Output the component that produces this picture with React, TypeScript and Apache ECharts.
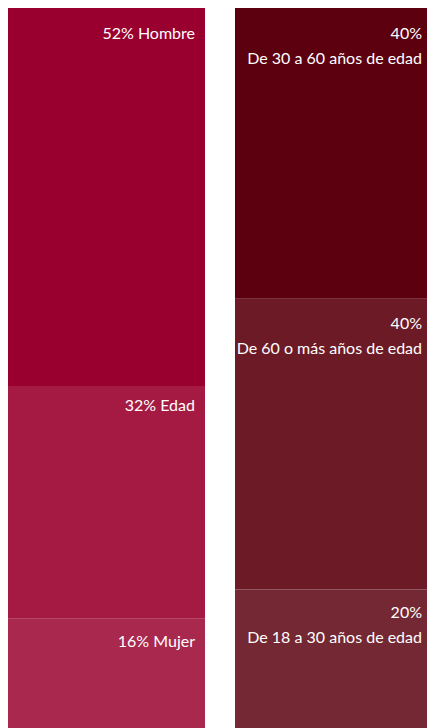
import React, { useEffect, useRef } from "react";
import * as echarts from "echarts";

const categories = ["Sexo", "Edad"];
const leftNames = ["Mujer", "Edad", "Hombre"];
const leftValues = [16, 32, 52];
const rightNames = ["De 18 a 30 años de edad", "De 60 o más años de edad", "De 30 a 60 años de edad"];
const rightValues = [20, 40, 40];

const FONT = "Lato, sans-serif";

export default function App() {
  const ref = useRef<HTMLDivElement>(null);
  useEffect(() => {
    document.body.style.margin = "0";
    document.documentElement.style.overflow = "hidden";
    document.body.style.overflow = "hidden";
    if (!ref.current) return;
    const leftColors = ["#A9284D", "#A41A42", "#990030"];
    const rightColors = ["#742833", "#6C1A26", "#5C0010"];
    const leftDy = [-1, -4, 2];
    const rightDy = [-1, 1, 2];
    const chart = echarts.init(ref.current, null, { renderer: "svg" });
    const series: any[] = [];
    const mkLabel = (dy: number, fmt: (p: any) => string) => ({
      show: true,
      position: "insideTopRight",
      distance: 10,
      offset: [0, dy],
      color: "#ffffff",
      fontFamily: FONT,
      fontSize: 16,
      lineHeight: 25,
      align: "right",
      formatter: fmt,
    });
    leftNames.forEach((n, i) => {
      series.push({
        type: "bar",
        name: n,
        stack: "a",
        barWidth: 197,
        data: [leftValues[i], null],
        itemStyle: { color: leftColors[i] },
        label: mkLabel(leftDy[i], (p: any) => `${p.value}% ${n}`),
      });
    });
    rightNames.forEach((n, i) => {
      series.push({
        type: "bar",
        name: n,
        stack: "a",
        barWidth: 197,
        data: [null, rightValues[i]],
        itemStyle: { color: rightColors[i] },
        label: mkLabel(rightDy[i], (p: any) => `${p.value}%\n${n}`),
      });
    });
    chart.setOption({
      animation: false,
      grid: { left: 0, right: 0, top: 8, bottom: 5, containLabel: false },
      xAxis: { type: "category", data: categories, show: false },
      yAxis: { type: "value", min: 0, max: 100, show: false },
      series,
    });
    return () => chart.dispose();
  }, []);
  return (
    <div
      ref={ref}
      style={{ position: "absolute", left: -7, top: 0, width: 454, height: 740 }}
    />
  );
}
